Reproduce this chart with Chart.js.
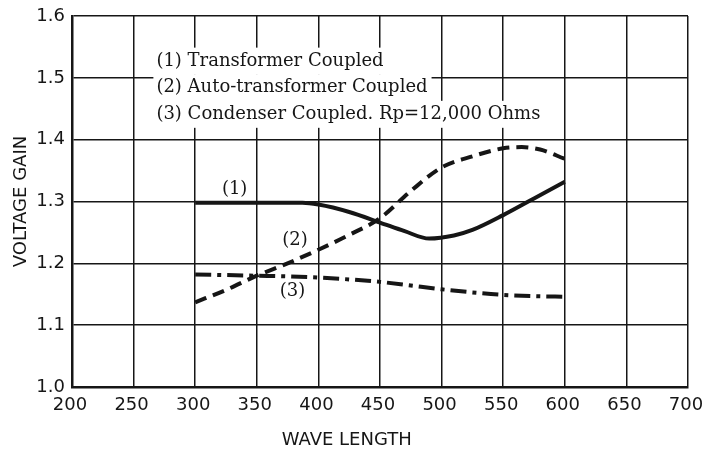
<!DOCTYPE html>
<html>
<head>
<meta charset="utf-8">
<script src="https://cdn.jsdelivr.net/npm/chart.js@4.4.1/dist/chart.umd.min.js"></script>
<style>
  html, body { margin: 0; padding: 0; background: #fff; }
  #chart { display: block; }
</style>
</head>
<body>
<canvas id="chart" width="702" height="451"></canvas>
<script>
// Wave length axis ticks
const waveTicks = [200, 250, 300, 350, 400, 450, 500, 550, 600, 650, 700];
const gainTicks = [1.0, 1.1, 1.2, 1.3, 1.4, 1.5, 1.6];

// (1) Transformer coupled
const transformerWave = [300, 325, 350, 375, 387, 400, 425, 450, 470, 490, 510, 525, 550, 575, 600];
const transformerGain = [1.298, 1.298, 1.298, 1.298, 1.298, 1.295, 1.283, 1.266, 1.252, 1.240, 1.245, 1.254, 1.278, 1.305, 1.332];

// (2) Auto-transformer coupled
const autoWave = [300, 325, 350, 375, 400, 425, 450, 475, 500, 525, 550, 565, 580, 600];
const autoGain = [1.137, 1.157, 1.180, 1.200, 1.222, 1.246, 1.273, 1.317, 1.355, 1.373, 1.386, 1.388, 1.384, 1.369];

// (3) Condenser coupled
const condenserWave = [300, 325, 350, 375, 400, 425, 450, 475, 500, 525, 550, 575, 600];
const condenserGain = [1.182, 1.181, 1.180, 1.179, 1.177, 1.174, 1.170, 1.164, 1.158, 1.153, 1.149, 1.147, 1.146];

const curveNames = ['(1)', '(2)', '(3)'];
const legendLines = [
  '(1) Transformer Coupled',
  '(2) Auto-transformer Coupled',
  '(3) Condenser Coupled. Rp=12,000 Ohms'
];

const ink = '#161616';

function toPoints(xs, ys) {
  return xs.map((x, i) => ({ x: x, y: ys[i] }));
}

// Text notes drawn on top of the plot: legend block, curve numbers, x title
const notesPlugin = {
  id: 'notes',
  afterDraw(chart, args, opts) {
    const ctx = chart.ctx;
    const xs = chart.scales.x;
    const ys = chart.scales.y;
    ctx.save();
    ctx.textBaseline = 'middle';

    // legend block with white paper behind each line
    ctx.font = opts.serif;
    const left = xs.getPixelForValue(opts.legendX);
    legendLines.forEach((text, i) => {
      const y = ys.getPixelForValue(opts.legendY[i]);
      const w = ctx.measureText(text).width;
      ctx.fillStyle = '#fff';
      ctx.fillRect(left - 3, y - 13.5, w + 7, 27);
      ctx.fillStyle = ink;
      ctx.textAlign = 'left';
      ctx.fillText(text, left, y);
    });

    // numbers next to the curves
    curveNames.forEach((name, i) => {
      const p = opts.curveAt[i];
      ctx.fillStyle = ink;
      ctx.textAlign = 'center';
      ctx.fillText(name, xs.getPixelForValue(p[0]), ys.getPixelForValue(p[1]));
    });

    // x axis title
    ctx.font = opts.sans;
    ctx.textAlign = 'center';
    ctx.fillText('WAVE LENGTH', xs.getPixelForValue(opts.xTitleAt), chart.height - 11);
    ctx.restore();
  }
};

const tickFont = { family: '"DejaVu Sans", sans-serif', size: 18 };

new Chart(document.getElementById('chart'), {
  type: 'line',
  data: {
    datasets: [
      {
        label: legendLines[0],
        data: toPoints(transformerWave, transformerGain),
        borderColor: ink,
        borderWidth: 4,
        cubicInterpolationMode: 'monotone',
        pointRadius: 0
      },
      {
        label: legendLines[1],
        data: toPoints(autoWave, autoGain),
        borderColor: ink,
        borderWidth: 4,
        borderDash: [12, 7],
        cubicInterpolationMode: 'monotone',
        pointRadius: 0
      },
      {
        label: legendLines[2],
        data: toPoints(condenserWave, condenserGain),
        borderColor: ink,
        borderWidth: 4,
        borderDash: [16, 6, 4, 6],
        cubicInterpolationMode: 'monotone',
        pointRadius: 0
      }
    ]
  },
  options: {
    responsive: false,
    animation: false,
    devicePixelRatio: 1,
    layout: { padding: { top: 16, right: 14, left: 0, bottom: 0 } },
    plugins: {
      legend: { display: false },
      tooltip: { enabled: false },
      notes: {
        serif: '18px "DejaVu Serif", serif',
        sans: '18px "DejaVu Sans", sans-serif',
        legendX: 268.5,
        legendY: [1.527, 1.484, 1.441],
        curveAt: [[332, 1.319], [381, 1.238], [379, 1.154]],
        xTitleAt: 423
      }
    },
    scales: {
      x: {
        type: 'linear',
        min: waveTicks[0],
        max: waveTicks[waveTicks.length - 1],
        afterBuildTicks: (scale) => { scale.ticks = waveTicks.map(v => ({ value: v })); },
        afterFit: (scale) => { scale.height = 64; scale.paddingLeft = 0; scale.paddingRight = 0; },
        grid: { color: ink, lineWidth: 1.5, drawTicks: false },
        border: { color: ink, width: 2.5 },
        ticks: { color: ink, font: tickFont, padding: 8, maxRotation: 0, labelOffset: -2 }
      },
      y: {
        min: gainTicks[0],
        max: gainTicks[gainTicks.length - 1],
        afterBuildTicks: (scale) => { scale.ticks = gainTicks.map(v => ({ value: v })); },
        afterFit: (scale) => { scale.width = 72; scale.paddingTop = 0; scale.paddingBottom = 0; },
        grid: { color: ink, lineWidth: 1.5, drawTicks: false },
        border: { color: ink, width: 2.5 },
        ticks: { color: ink, font: tickFont, padding: 7, callback: (v) => v.toFixed(1) },
        title: {
          display: true,
          text: 'VOLTAGE GAIN',
          color: ink,
          font: { family: '"DejaVu Sans", sans-serif', size: 18 },
          padding: { top: 11, bottom: 0 }
        }
      }
    }
  },
  plugins: [notesPlugin]
});
</script>
</body>
</html>
